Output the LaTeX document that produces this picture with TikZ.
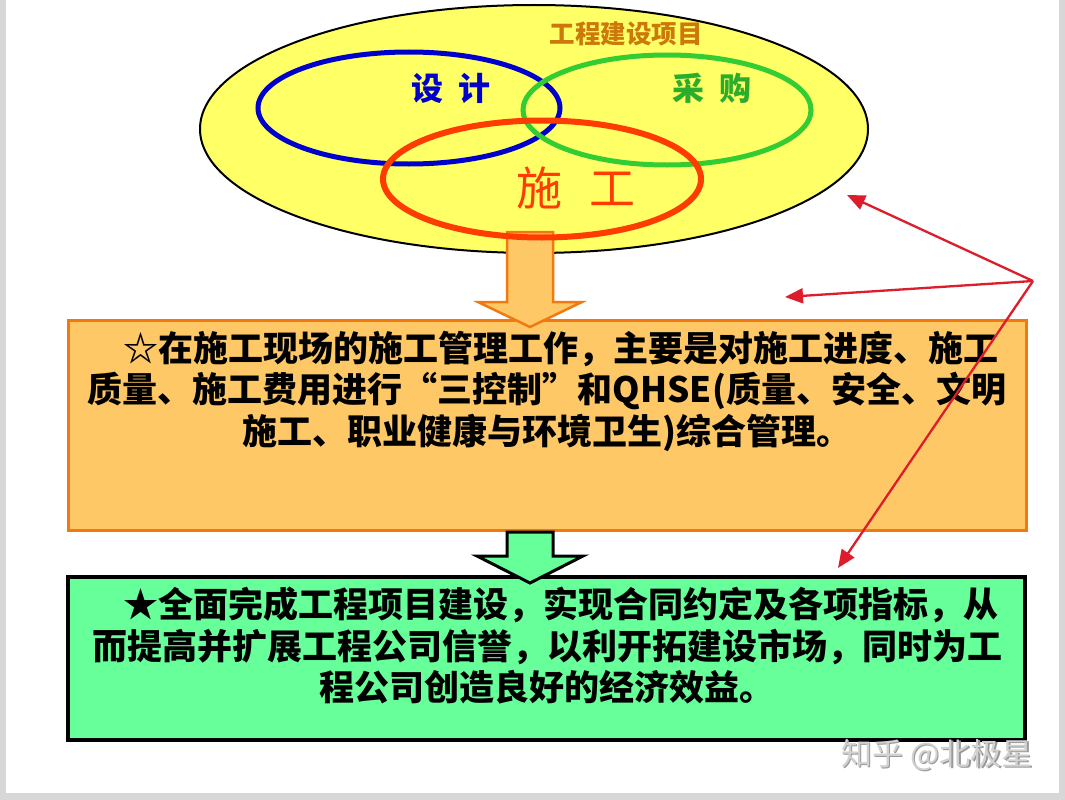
\documentclass[tikz,border=0pt]{standalone}
\usepackage{fontspec}
\usetikzlibrary{shapes.geometric,arrows.meta}
\newfontfamily\cjk{Noto Sans CJK SC}
\definecolor{ellyellow}{RGB}{255,255,102}
\definecolor{titlebrown}{RGB}{204,120,10}
\definecolor{designblue}{RGB}{0,0,204}
\definecolor{buygreen}{RGB}{51,204,51}
\definecolor{buildred}{RGB}{255,60,0}
\definecolor{boxorange}{RGB}{255,200,102}
\definecolor{edgeorange}{RGB}{240,122,16}
\definecolor{boxgreen}{RGB}{102,255,153}
\definecolor{arrowred}{RGB}{221,28,44}
\definecolor{stripgray}{RGB}{215,215,215}
\tikzset{
  ring/.style={ellipse, inner sep=0pt, line width=5pt},
  bodytext/.style={font=\cjk\bfseries\fontsize{35}{41.5}\selectfont, align=center, inner sep=0pt},
  pointer/.style={arrowred, line width=2.3pt, -{Triangle[length=18pt,width=15pt]}}
}
\begin{document}
\begin{tikzpicture}[x=1pt,y=-1pt]
\useasboundingbox (0,0) rectangle (1065,800);
\fill[white] (0,0) rectangle (1065,800);
% page edges
\fill[stripgray] (0,0) rectangle (6,800);
\fill[stripgray] (1059,0) rectangle (1065,800);
\fill[stripgray] (0,793) rectangle (1065,800);
% big project ellipse
\node[ellipse, draw=black, line width=2pt, fill=ellyellow, minimum width=668pt, minimum height=248pt, inner sep=0pt] (proj) at (534,129) {};
\node[font=\cjk\bfseries\fontsize{25.5}{25.5}\selectfont, text=titlebrown] (projtitle) at (626,34) {工程建设项目};
% orange box
\node[draw=edgeorange, line width=3pt, fill=boxorange, minimum width=958pt, minimum height=210pt, inner sep=0pt] (mgmt) at (547,425) {};
% orange arrow
\filldraw[fill=boxorange, draw=edgeorange, line width=2.5pt, line join=miter]
  (507,232) -- (553,232) -- (553,302) -- (582,302) -- (530,327) -- (478,302) -- (507,302) -- cycle;
% three rings
\node[ring, draw=designblue, minimum width=302pt, minimum height=112pt] (design) at (409,108) {};
\node[ring, draw=buygreen, minimum width=288pt, minimum height=110pt] (buy) at (667,110) {};
\node[ring, draw=buildred, line width=6pt, minimum width=318pt, minimum height=117pt] (build) at (542,179) {};
\node[font=\cjk\bfseries\fontsize{32}{32}\selectfont, text=designblue] (designlbl) at (451,88) {设\hspace{0.45em}计};
\node[font=\cjk\bfseries\fontsize{32}{32}\selectfont, text=buygreen!85!black] (buylbl) at (712,88) {采\hspace{0.45em}购};
\node[font=\cjk\fontsize{46}{46}\selectfont, text=buildred] (buildlbl) at (576,188) {施\hspace{0.6em}工};
% orange box text
\node[bodytext] (mgmttext) at (547,391) {\hspace*{0.8em}☆在施工现场的施工管理工作，主要是对施工进度、施工\\质量、施工费用进行“三控制”和QHSE(质量、安全、文明\\施工、职业健康与环境卫生)综合管理。};
% green box
\node[draw=black, line width=4pt, fill=boxgreen, minimum width=957pt, minimum height=163pt, inner sep=0pt] (goal) at (546.5,658.5) {};
\filldraw[fill=boxgreen, draw=black, line width=3pt, line join=miter]
  (507,532) -- (553,532) -- (553,556) -- (583,556) -- (530,583) -- (477,556) -- (507,556) -- cycle;
\node[bodytext] (goaltext) at (547,646) {\hspace*{0.8em}★全面完成工程项目建设，实现合同约定及各项指标，从\\而提高并扩展工程公司信誉，以利开拓建设市场，同时为工\\程公司创造良好的经济效益。};
% red pointers
\coordinate (hub) at (1033,281);
\coordinate (t1) at (847,195);
\coordinate (t2) at (785,297);
\coordinate (t3) at (838,568);
\draw[pointer] (hub) -- (t1);
\draw[pointer] (hub) -- (t2);
\draw[pointer] (hub) -- (t3);
% watermark
\node[font=\cjk\fontsize{31}{31}\selectfont, text=gray!80] (wmshadow) at (938.5,756.5) {知乎 @北极星};
\node[font=\cjk\fontsize{31}{31}\selectfont, text=black!18] (wm) at (937,755) {知乎 @北极星};
\end{tikzpicture}
\end{document}
